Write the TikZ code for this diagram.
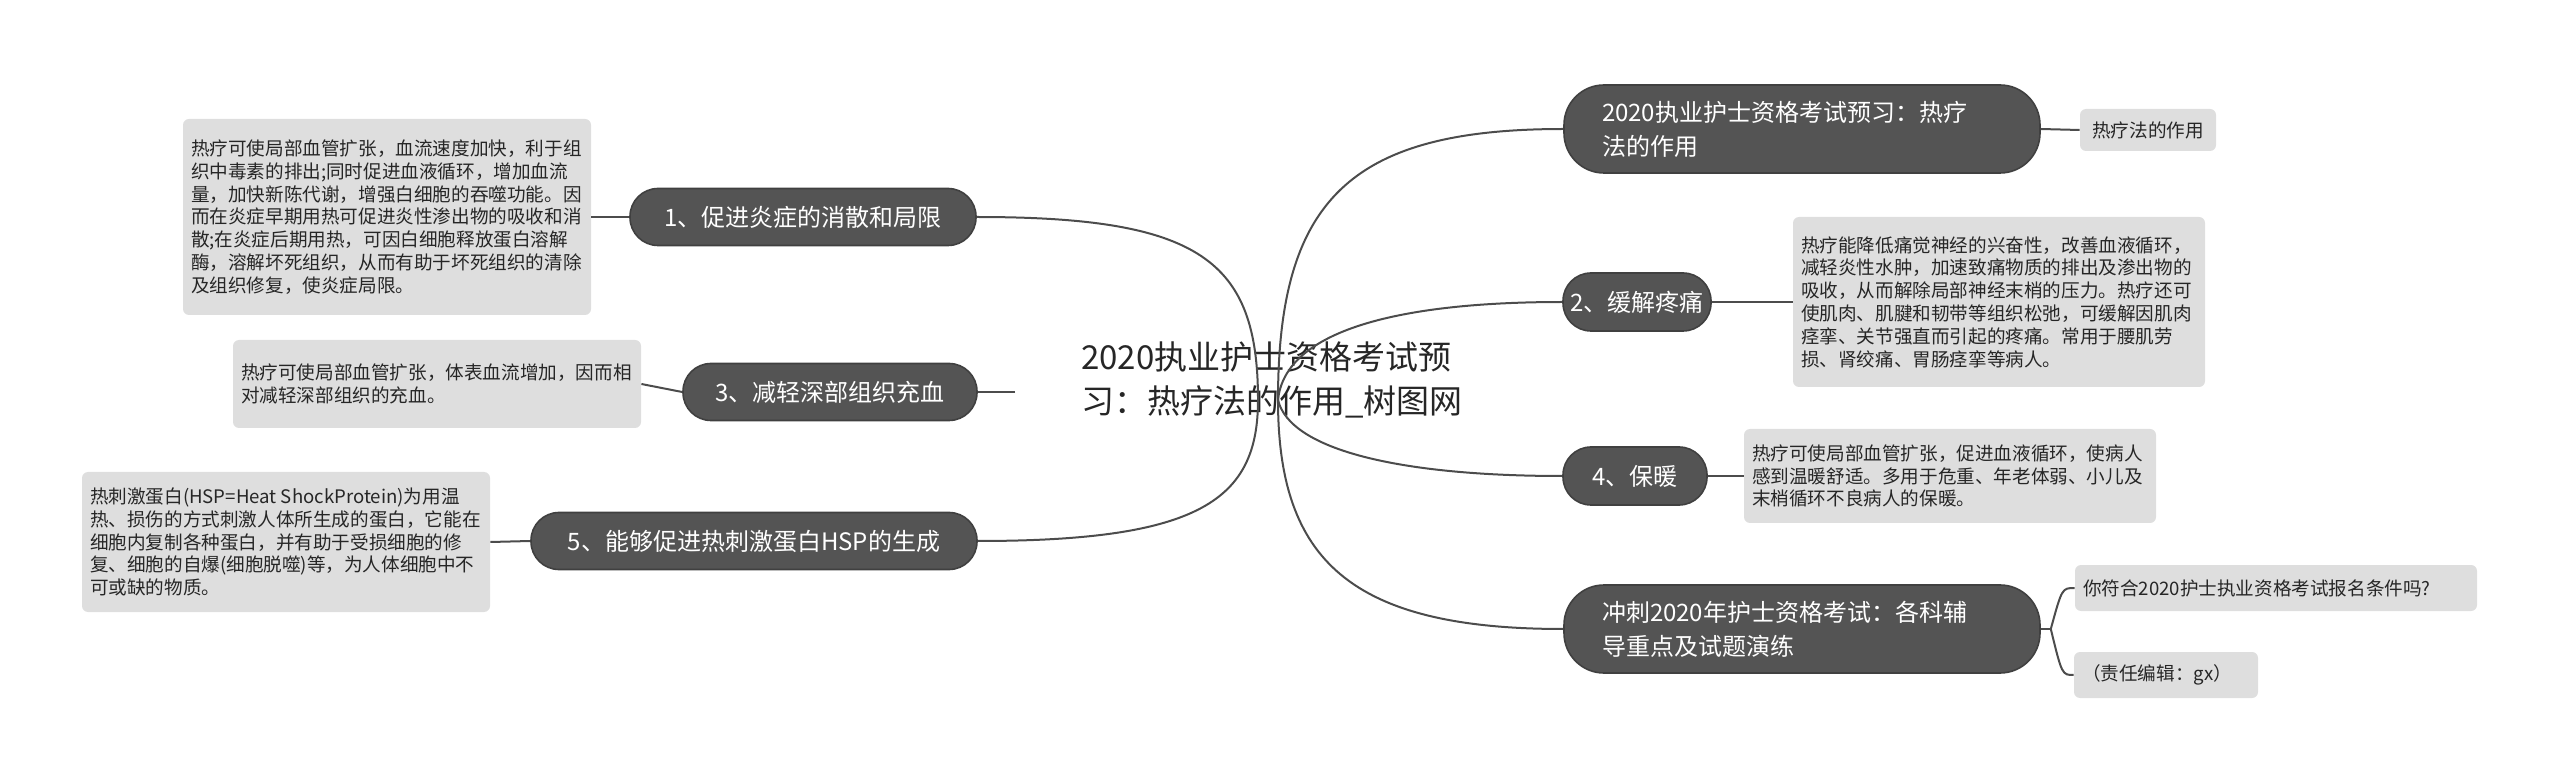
\documentclass[tikz,border=0pt]{standalone}
\usepackage{fontspec}
\setmainfont{Noto Sans CJK SC}
\XeTeXlinebreaklocale "zh"
\XeTeXlinebreakskip=0pt plus 1pt
\begin{document}
\begin{tikzpicture}[x=0.5pt,y=-0.5pt,
  main/.style={fill=black!67,draw=black!75,line width=0.8pt,text=white,rounded corners=14pt,font=\fontsize{12}{17}\selectfont,inner sep=0pt,anchor=center},
  leaf/.style={fill=black!13,rounded corners=3pt,font=\fontsize{9.3}{11.4}\selectfont,text=black!85,align=left,inner sep=0pt,anchor=center},
  conn/.style={draw=black!70,line width=1pt}]
\useasboundingbox (0,0) rectangle (2560,780);
\node[font=\fontsize{16.5}{22}\selectfont,align=left,text=black!85] (c) at (1272,380) {2020执业护士资格考试预\\习：热疗法的作用\_树图网};
\coordinate (ol) at (1258,400);
\coordinate (or) at (1278,400);
% left main
\node[main,minimum width=173pt,minimum height=28.5pt] (n1) at (803,217) {1、促进炎症的消散和局限};
\node[main,minimum width=147pt,minimum height=28.5pt] (n3) at (830,392) {3、减轻深部组织充血};
\node[main,minimum width=223pt,minimum height=28.5pt] (n5) at (754,541) {5、能够促进热刺激蛋白HSP的生成};
% right main
\node[main,minimum width=238pt,minimum height=44pt,rounded corners=20pt] (r0) at (1802,129) {\parbox{200pt}{\raggedright 2020执业护士资格考试预习：热疗\\法的作用}};
\node[main,minimum width=74pt,minimum height=29pt] (r2) at (1637,302) {2、缓解疼痛};
\node[main,minimum width=72pt,minimum height=29pt] (r4) at (1635,476) {4、保暖};
\node[main,minimum width=238pt,minimum height=44pt,rounded corners=20pt] (r5) at (1802,629) {\parbox{200pt}{\raggedright 冲刺2020年护士资格考试：各科辅\\导重点及试题演练}};
% left leaves
\node[leaf,minimum width=204pt,minimum height=98pt] (l1) at (387,217) {\parbox{196pt}{\raggedright 热疗可使局部血管扩张，血流速度加快，利于组织中毒素的排出;同时促进血液循环，增加血流量，加快新陈代谢，增强白细胞的吞噬功能。因而在炎症早期用热可促进炎性渗出物的吸收和消散;在炎症后期用热，可因白细胞释放蛋白溶解酶，溶解坏死组织，从而有助于坏死组织的清除及组织修复，使炎症局限。}};
\node[leaf,minimum width=204pt,minimum height=44pt] (l3) at (437,384) {\parbox{196pt}{\raggedright 热疗可使局部血管扩张，体表血流增加，因而相对减轻深部组织的充血。}};
\node[leaf,minimum width=204pt,minimum height=70pt] (l5) at (286,542) {\parbox{196pt}{\raggedright 热刺激蛋白(HSP=Heat ShockProtein)为用温热、损伤的方式刺激人体所生成的蛋白，它能在细胞内复制各种蛋白，并有助于受损细胞的修复、细胞的自爆(细胞脱噬)等，为人体细胞中不可或缺的物质。}};
% right leaves
\node[leaf,minimum width=68pt,minimum height=21pt] (rl0) at (2148,130) {热疗法的作用};
\node[leaf,minimum width=206pt,minimum height=85pt] (rl2) at (1999,302) {\parbox{198pt}{\raggedright 热疗能降低痛觉神经的兴奋性，改善血液循环，减轻炎性水肿，加速致痛物质的排出及渗出物的吸收，从而解除局部神经末梢的压力。热疗还可使肌肉、肌腱和韧带等组织松弛，可缓解因肌肉痉挛、关节强直而引起的疼痛。常用于腰肌劳损、肾绞痛、胃肠痉挛等病人。}};
\node[leaf,minimum width=206pt,minimum height=47pt] (rl4) at (1950,476) {\parbox{198pt}{\raggedright 热疗可使局部血管扩张，促进血液循环，使病人感到温暖舒适。多用于危重、年老体弱、小儿及末梢循环不良病人的保暖。}};
\node[leaf,minimum width=201pt,minimum height=23pt] (rl5a) at (2276,588) {\parbox{193pt}{你符合2020护士执业资格考试报名条件吗?}};
\node[leaf,minimum width=92pt,minimum height=23pt] (rl5b) at (2166,675) {\parbox{84pt}{（责任编辑：gx）}};
% connectors
\draw[conn] (ol) .. controls (1258,260) and (1200,217) .. (n1.east);
\draw[conn] (1015,392) -- (n3.east);
\draw[conn] (ol) .. controls (1258,500) and (1200,541) .. (n5.east);
\draw[conn] (or) .. controls (1278,200) and (1350,129) .. (r0.west);
\draw[conn] (or) .. controls (1285,330) and (1400,302) .. (r2.west);
\draw[conn] (or) .. controls (1290,450) and (1400,476) .. (r4.west);
\draw[conn] (or) .. controls (1278,560) and (1350,629) .. (r5.west);
\draw[conn] (n1.west) -- (l1.east);
\draw[conn] (n3.west) -- (l3.east);
\draw[conn] (n5.west) -- (l5.east);
\draw[conn] (r0.east) -- (rl0.west);
\draw[conn] (r2.east) -- (rl2.west);
\draw[conn] (r4.east) -- (rl4.west);
\draw[conn] (r5.east) -- ++(10,0) coordinate (rb);
\draw[conn] (rb) .. controls (2062,588) .. (rl5a.west);
\draw[conn] (rb) .. controls (2062,675) .. (rl5b.west);
\end{tikzpicture}
\end{document}
